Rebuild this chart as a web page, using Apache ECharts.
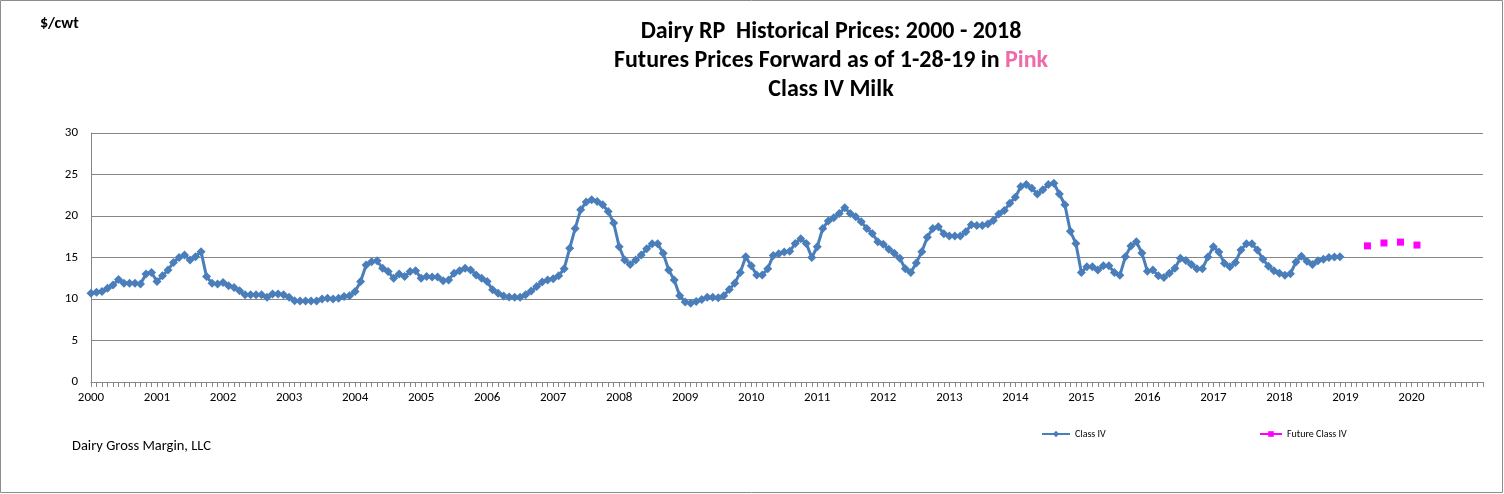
<!DOCTYPE html>
<html>
<head>
<meta charset="utf-8">
<script src="https://cdn.jsdelivr.net/npm/echarts@6/dist/echarts.min.js"></script>
<style>
  html, body { margin: 0; padding: 0; background: #fff; }
  #main { width: 1504px; height: 494px; }
</style>
</head>
<body>
<div id="main"></div>
<script>
var myChart = echarts.init(document.getElementById('main'));

var FONT = 'Carlito, "Liberation Sans Narrow", "DejaVu Sans Condensed", sans-serif';

// axis runs Jan 2000 .. Feb 2021, one category per month
var firstYear = 2000;
var lastLabelYear = 2020;
var monthCount = 254;

// Class IV monthly price, Jan 2000 .. Dec 2018 ($/cwt)
var classIV = [
  10.7, 10.8, 10.9, 11.3, 11.7, 12.35, 11.9, 11.9, 11.9, 11.8, 13.0, 13.2,      // 2000
  12.1, 12.8, 13.5, 14.4, 15.0, 15.3, 14.7, 15.1, 15.7, 12.7, 11.9, 11.8,       // 2001
  12.0, 11.6, 11.4, 11.0, 10.5, 10.5, 10.5, 10.5, 10.2, 10.6, 10.6, 10.5,       // 2002
  10.2, 9.8, 9.75, 9.75, 9.75, 9.75, 10.0, 10.1, 10.0, 10.1, 10.3, 10.4,        // 2003
  10.9, 12.1, 14.1, 14.5, 14.6, 13.7, 13.3, 12.5, 13.0, 12.7, 13.3, 13.4,       // 2004
  12.5, 12.7, 12.65, 12.65, 12.2, 12.3, 13.1, 13.4, 13.7, 13.5, 12.9, 12.5,     // 2005
  12.1, 11.1, 10.7, 10.35, 10.25, 10.2, 10.2, 10.5, 10.95, 11.5, 12.05, 12.3,   // 2006
  12.45, 12.8, 13.65, 16.1, 18.5, 20.75, 21.7, 21.95, 21.75, 21.35, 20.55, 19.15, // 2007
  16.3, 14.7, 14.15, 14.7, 15.3, 16.05, 16.65, 16.65, 15.5, 13.5, 12.3, 10.4,   // 2008
  9.65, 9.5, 9.7, 9.95, 10.2, 10.2, 10.15, 10.4, 11.15, 11.9, 13.2, 15.1,       // 2009
  14.0, 12.9, 12.9, 13.65, 15.25, 15.45, 15.65, 15.75, 16.7, 17.25, 16.7, 15.0, // 2010
  16.3, 18.5, 19.4, 19.8, 20.3, 21.0, 20.3, 19.9, 19.3, 18.5, 17.9, 16.9,       // 2011
  16.6, 16.0, 15.5, 14.9, 13.65, 13.2, 14.35, 15.7, 17.45, 18.5, 18.7, 17.85,   // 2012
  17.6, 17.6, 17.6, 18.1, 18.95, 18.85, 18.85, 19.05, 19.45, 20.25, 20.65, 21.55, // 2013
  22.25, 23.55, 23.8, 23.35, 22.65, 23.15, 23.8, 23.95, 22.65, 21.35, 18.15, 16.7, // 2014
  13.2, 13.9, 13.9, 13.5, 14.0, 14.0, 13.2, 12.85, 15.1, 16.4, 16.9, 15.55,     // 2015
  13.35, 13.5, 12.8, 12.6, 13.1, 13.7, 14.9, 14.65, 14.15, 13.65, 13.65, 15.05, // 2016
  16.3, 15.65, 14.3, 13.9, 14.4, 15.9, 16.65, 16.65, 15.9, 14.8, 13.95, 13.4,   // 2017
  13.1, 12.85, 13.05, 14.45, 15.15, 14.55, 14.15, 14.6, 14.8, 15.0, 15.05, 15.1 // 2018
];

// futures forward as of 1-28-19
var futureMonths = ['2019-05', '2019-08', '2019-11', '2020-02'];
var futureValues = [16.4, 16.75, 16.85, 16.5];

var yTicks = { min: 0, max: 30, interval: 5 };

// build month categories
var months = [];
for (var i = 0; i < monthCount; i++) {
  var y = firstYear + Math.floor(i / 12);
  var m = (i % 12) + 1;
  months.push(y + '-' + (m < 10 ? '0' + m : m));
}

var classIVData = months.map(function (c, i) {
  return i < classIV.length ? classIV[i] : null;
});
var futureData = months.map(function (c) {
  var k = futureMonths.indexOf(c);
  return k >= 0 ? futureValues[k] : null;
});

option = {
  animation: false,
  backgroundColor: '#fff',
  title: {
    text: 'Dairy RP  Historical Prices: 2000 - 2018\nFutures Prices Forward as of 1-28-19 in {p|Pink}\nClass IV Milk',
    left: 826,
    top: 12,
    textAlign: 'center',
    textStyle: {
      fontFamily: FONT,
      fontWeight: 'bold',
      fontSize: 24,
      lineHeight: 29,
      color: '#000',
      rich: {
        p: { color: '#ee6aa8', fontFamily: FONT, fontWeight: 'bold', fontSize: 24, lineHeight: 29 }
      }
    }
  },
  legend: [{
    data: ['Class IV'],
    left: 1036,
    top: 424,
    itemWidth: 28,
    itemHeight: 8,
    textStyle: { fontFamily: FONT, fontSize: 10, color: '#000' }
  }, {
    data: ['Future Class IV'],
    left: 1254,
    top: 424,
    itemWidth: 22,
    itemHeight: 7,
    textStyle: { fontFamily: FONT, fontSize: 10, color: '#000' }
  }],
  grid: {
    left: 91,
    right: 21,
    top: 133,
    bottom: 112,
    containLabel: false
  },
  xAxis: {
    type: 'category',
    data: months,
    boundaryGap: false,
    axisLine: { lineStyle: { color: '#868686', width: 1 } },
    axisTick: { interval: 0, length: 5, lineStyle: { color: '#868686' } },
    axisLabel: {
      interval: 11,
      margin: 9,
      fontFamily: FONT,
      fontSize: 13,
      color: '#000',
      formatter: function (v) {
        var yr = +v.slice(0, 4);
        return yr <= lastLabelYear ? String(yr) : '';
      }
    },
    splitLine: { show: false }
  },
  yAxis: {
    type: 'value',
    min: yTicks.min,
    max: yTicks.max,
    interval: yTicks.interval,
    axisLine: { show: true, lineStyle: { color: '#868686', width: 1 } },
    axisTick: { show: false },
    axisLabel: { fontFamily: FONT, fontSize: 13, color: '#000', margin: 13 },
    splitLine: { lineStyle: { color: '#868686', width: 1 } }
  },
  series: [{
    name: 'Class IV',
    type: 'line',
    data: classIVData,
    symbol: 'diamond',
    symbolSize: 9,
    showAllSymbol: true,
    itemStyle: { color: '#4a7ebb' },
    lineStyle: { color: '#4a7ebb', width: 3 },
    connectNulls: false
  }, {
    name: 'Future Class IV',
    type: 'line',
    data: futureData,
    symbol: 'rect',
    symbolSize: 7,
    showAllSymbol: true,
    itemStyle: { color: '#ff00ff' },
    lineStyle: { color: '#ff00ff', width: 1 },
    connectNulls: false
  }],
  graphic: [{
    type: 'rect',
    shape: { x: 0.5, y: 0.5, width: 1502, height: 492 },
    style: { fill: 'none', stroke: '#8c8c8c', lineWidth: 1 },
    silent: true
  }, {
    type: 'text',
    left: 40,
    top: 16,
    style: { text: '$/cwt', font: 'bold 16px ' + FONT, fill: '#000' }
  }, {
    type: 'text',
    left: 72,
    top: 439,
    style: { text: 'Dairy Gross Margin, LLC', font: '14.5px ' + FONT, fill: '#000' }
  }]
};

myChart.setOption(option);
</script>
</body>
</html>
